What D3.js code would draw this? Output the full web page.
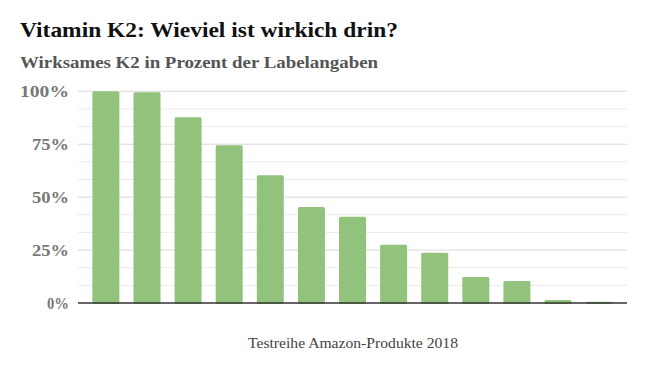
<!DOCTYPE html>
<html><head><meta charset="utf-8">
<script src="https://cdn.jsdelivr.net/npm/d3@7"></script>
<style>body{margin:0;background:#fff}</style>
</head><body><svg id="c" width="646" height="371"></svg>
<script>
const categories = ["P1","P2","P3","P4","P5","P6","P7","P8","P9","P10","P11","P12","P13"];
const values = [100, 99.5, 87.7, 74.5, 60.4, 45.3, 40.7, 27.5, 23.7, 12.3, 10.4, 1.4, 0.6];
const majorTicks = [0, 25, 50, 75, 100];
const tickLabels = ["0%", "25%", "50%", "75%", "100%"];
const minorTicks = [8.33, 16.67, 33.33, 41.67, 58.33, 66.67, 83.33, 91.67];
const title = "Vitamin K2: Wieviel ist wirkich drin?";
const subtitle = "Wirksames K2 in Prozent der Labelangaben";
const caption = "Testreihe Amazon-Produkte 2018";

const svg = d3.select("#c");
const font = "'Liberation Serif', 'DejaVu Serif', serif";
const x = d3.scaleBand().domain(categories).range([78, 627]).paddingInner(0.343).paddingOuter(0.35);
const y = d3.scaleLinear().domain([0, 100]).range([303, 91.3]);

svg.append("g").selectAll("line").data(minorTicks).join("line")
  .attr("x1", 78).attr("x2", 627).attr("y1", d => y(d)).attr("y2", d => y(d))
  .attr("stroke", "#ebebeb").attr("stroke-width", 1);
svg.append("g").selectAll("line").data(majorTicks.filter(d => d > 0)).join("line")
  .attr("x1", 78).attr("x2", 627).attr("y1", d => y(d)).attr("y2", d => y(d))
  .attr("stroke", "#d9d9d9").attr("stroke-width", 1);

svg.append("g").selectAll("rect").data(values).join("rect")
  .attr("x", (d, i) => x(categories[i])).attr("width", x.bandwidth())
  .attr("y", d => y(d)).attr("height", d => y(0) - y(d) + 1)
  .attr("rx", 1.5).attr("fill", "#92c37d");

svg.append("line").attr("x1", 78).attr("x2", 627).attr("y1", y(0)).attr("y2", y(0))
  .attr("stroke", "#333").attr("stroke-width", 1.3);

const labW = [22, 37, 37, 37, 49];
svg.append("g").selectAll("text").data(majorTicks).join("text")
  .attr("x", 69).attr("y", d => y(d) + 6).attr("text-anchor", "end")
  .attr("font-family", font).attr("font-weight", "bold").attr("font-size", 17.5)
  .attr("textLength", (d, i) => labW[i]).attr("lengthAdjust", "spacingAndGlyphs")
  .attr("fill", "#777").text((d, i) => tickLabels[i]);

svg.append("text").attr("x", 20).attr("y", 37).attr("font-family", font)
  .attr("font-weight", "bold").attr("font-size", 22).attr("fill", "#111")
  .attr("textLength", 378).attr("lengthAdjust", "spacingAndGlyphs").text(title);
svg.append("text").attr("x", 20).attr("y", 68).attr("font-family", font)
  .attr("font-weight", "bold").attr("font-size", 17).attr("fill", "#555")
  .attr("textLength", 358).attr("lengthAdjust", "spacingAndGlyphs").text(subtitle);
svg.append("text").attr("x", 353).attr("y", 348).attr("text-anchor", "middle").attr("font-family", font)
  .attr("font-size", 15).attr("fill", "#444")
  .attr("textLength", 210).attr("lengthAdjust", "spacingAndGlyphs").text(caption);
</script></body></html>
